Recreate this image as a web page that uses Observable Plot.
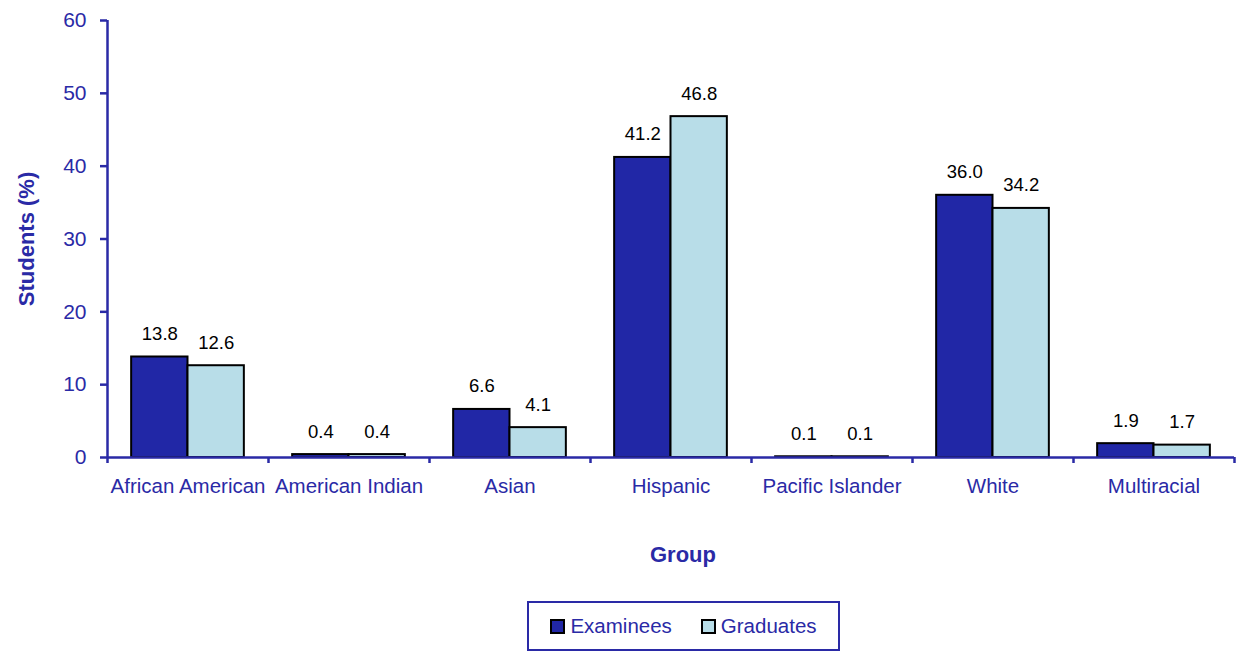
<!DOCTYPE html>
<html>
<head>
<meta charset="utf-8">
<script src="https://cdn.jsdelivr.net/npm/d3@7"></script>
<script src="https://cdn.jsdelivr.net/npm/@observablehq/plot@0.6"></script>
<style>
  body { margin: 0; background: #fff; font-family: "Liberation Sans", Arial, sans-serif; }
  #chart svg { display: block; }
  .legend {
    position: absolute; left: 527px; top: 601px; width: 309px; height: 46px;
    border: 2px solid #2a2aa6; display: flex; align-items: center; justify-content: center;
    gap: 29px; font-size: 20.5px; color: #2a2aa6; box-sizing: content-box;
  }
  .legend span.item { display: flex; align-items: center; gap: 5px; }
  .legend i { display: inline-block; width: 11px; height: 11px; border: 2px solid #000; }
</style>
</head>
<body>
<div id="chart"></div>
<div class="legend">
  <span class="item"><i style="background:#2127a6"></i>Examinees</span>
  <span class="item"><i style="background:#b8dde8"></i>Graduates</span>
</div>
<script>
const groups = ["African American", "American Indian", "Asian", "Hispanic", "Pacific Islander", "White", "Multiracial"];
const series = ["Examinees", "Graduates"];
const examinees = [13.8, 0.4, 6.6, 41.2, 0.1, 36.0, 1.9];
const graduates = [12.6, 0.4, 4.1, 46.8, 0.1, 34.2, 1.7];
const yTicks = [0, 10, 20, 30, 40, 50, 60];

const colors = {Examinees: "#2127a6", Graduates: "#b8dde8"};
const axisColor = "#2a2aa6";
const fontFam = "'Liberation Sans', Arial, sans-serif";

const rows = [];
groups.forEach((g, gi) => {
  [examinees, graduates].forEach((vals, si) => {
    rows.push({group: g, gi, series: series[si], si, value: vals[gi]});
  });
});
const start = 0.15, barW = 0.35;
const x1 = d => d.gi + start + d.si * barW;
const x2 = d => d.gi + start + (d.si + 1) * barW;

const plot = Plot.plot({
  width: 1241,
  height: 585,
  marginLeft: 107,
  marginRight: 7,
  marginTop: 20,
  marginBottom: 128,
  style: {fontFamily: fontFam, background: "#fff"},
  x: {domain: [0, groups.length], axis: null},
  y: {domain: [0, 60], axis: null},
  marks: [
    Plot.rectY(rows, {x1, x2, y: "value", fill: d => colors[d.series], stroke: "#000", strokeWidth: 2}),
    Plot.text(rows, {x: d => (x1(d) + x2(d)) / 2, y: "value", text: d => d.value.toFixed(1), dy: -23, fontSize: 18.5, fill: "#000"}),
    Plot.ruleX([0], {stroke: axisColor, strokeWidth: 2.5}),
    Plot.ruleY([0], {stroke: axisColor, strokeWidth: 2.5}),
    Plot.axisY({ticks: yTicks, tickSize: 7, tickPadding: 14, stroke: axisColor, strokeWidth: 2.5, fill: axisColor, fontSize: 21, label: null}),
    Plot.axisX({ticks: d3.range(groups.length + 1), tickSize: 6, tickFormat: () => "", stroke: axisColor, strokeWidth: 2.5, label: null}),
    Plot.axisX({ticks: d3.range(groups.length).map(i => i + 0.5), tickSize: 0, tickPadding: 21, tickFormat: v => groups[Math.floor(v)], fill: axisColor, fontSize: 20.5, label: null}),
    Plot.text(["Group"], {frameAnchor: "bottom", dy: 104, dx: 12, text: d => d, fontSize: 22, fontWeight: "bold", fill: axisColor}),
    Plot.text(["Students (%)"], {frameAnchor: "left", textAnchor: "middle", dx: -81, rotate: -90, text: d => d, fontSize: 22, fontWeight: "bold", fill: axisColor})
  ]
});
document.getElementById("chart").append(plot);
</script>
</body>
</html>
